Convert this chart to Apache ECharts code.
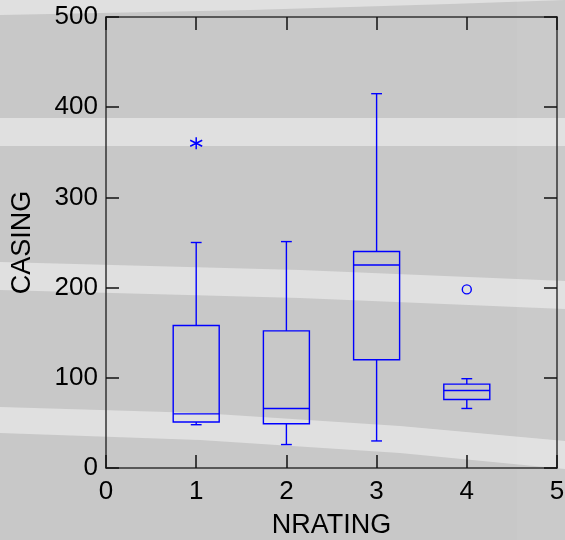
<!DOCTYPE html>
<html>
<head>
<meta charset="utf-8">
<script src="https://cdn.jsdelivr.net/npm/echarts@6/dist/echarts.min.js"></script>
<style>
html,body{margin:0;padding:0;background:#c8c8c8;}
#chart{width:565px;height:540px;}
</style>
</head>
<body>
<div id="chart"></div>
<script>
// ---- data ----
var positions = [1, 2, 3, 4];
var mins    = [48, 26, 30, 66];
var q1s     = [51, 49, 120, 76];
var medians = [60, 66, 225, 86];
var q3s     = [158, 152, 240, 93];
var maxs    = [250, 251, 415, 99];
var farOutX = [1];
var farOutY = [360];
var outX = [4];
var outY = [198];
var xTicks = [0, 1, 2, 3, 4, 5];
var yTicks = [0, 100, 200, 300, 400, 500];

var boxData = positions.map(function (p, i) {
  return [p, mins[i], q1s[i], medians[i], q3s[i], maxs[i]];
});
var farData = farOutX.map(function (x, i) { return [x, farOutY[i]]; });
var outData = outX.map(function (x, i) { return [x, outY[i]]; });

var BLUE = '#0000ff';
var BOX_W = 0.51;
var CAP_W = 0.12;
var FONT = "'Liberation Sans', Arial, sans-serif";

function renderBox(params, api) {
  var x = api.value(0);
  var pMin = api.coord([x, api.value(1)]);
  var pQ1 = api.coord([x, api.value(2)]);
  var pMed = api.coord([x, api.value(3)]);
  var pQ3 = api.coord([x, api.value(4)]);
  var pMax = api.coord([x, api.value(5)]);
  var hw = api.size([BOX_W, 0])[0] / 2;
  var cw = api.size([CAP_W, 0])[0] / 2;
  var cx = pMed[0];
  var st = { stroke: BLUE, fill: null, lineWidth: 1.4 };
  return {
    type: 'group',
    children: [
      { type: 'rect', shape: { x: cx - hw, y: pQ3[1], width: 2 * hw, height: pQ1[1] - pQ3[1] }, style: st },
      { type: 'line', shape: { x1: cx - hw, y1: pMed[1], x2: cx + hw, y2: pMed[1] }, style: st },
      { type: 'line', shape: { x1: cx, y1: pQ3[1], x2: cx, y2: pMax[1] }, style: st },
      { type: 'line', shape: { x1: cx, y1: pQ1[1], x2: cx, y2: pMin[1] }, style: st },
      { type: 'line', shape: { x1: cx - cw, y1: pMax[1], x2: cx + cw, y2: pMax[1] }, style: st },
      { type: 'line', shape: { x1: cx - cw, y1: pMin[1], x2: cx + cw, y2: pMin[1] }, style: st }
    ]
  };
}

var axisLine = { show: true, onZero: false, lineStyle: { color: '#333', width: 1.5 } };
var axisTick = { show: true, inside: true, length: 13, lineStyle: { color: '#111', width: 1.5 } };

var chart = echarts.init(document.getElementById('chart'), null, { renderer: 'canvas' });
chart.setOption({
  animation: false,
  backgroundColor: '#c8c8c8',
  graphic: [
    { type: 'polygon', z: -10, shape: { points: [[0, 0], [565, 0], [450, 4], [250, 10], [0, 15]] }, style: { fill: '#e0e0e0' } },
    { type: 'rect', z: -10, shape: { x: 0, y: 118, width: 565, height: 28 }, style: { fill: '#e0e0e0' } },
    { type: 'polygon', z: -10, shape: { points: [[0, 262], [300, 270], [565, 281], [565, 309], [300, 298], [0, 290]] }, style: { fill: '#e0e0e0' } },
    { type: 'polygon', z: -10, shape: { points: [[0, 407], [200, 413], [400, 426], [565, 441], [565, 469], [400, 453], [200, 440], [0, 433]] }, style: { fill: '#e0e0e0' } },
    { type: 'rect', z: -9, shape: { x: 517, y: 0, width: 48, height: 540 }, style: { fill: 'rgba(255,255,255,0.05)' } }
  ],
  grid: { left: 106, right: 8, top: 17, bottom: 72, containLabel: false, outerBoundsMode: 'none' },
  xAxis: [
    {
      type: 'value', min: 0, max: 5, interval: 1, position: 'bottom',
      name: 'NRATING', nameLocation: 'middle', nameGap: 44,
      nameTextStyle: { fontFamily: FONT, fontSize: 27, color: '#000' },
      axisLine: axisLine, axisTick: axisTick, splitLine: { show: false },
      axisLabel: { fontFamily: FONT, fontSize: 26, color: '#000', margin: 11,
        formatter: function (v) { return xTicks.indexOf(v) >= 0 ? String(v) : ''; } }
    },
    {
      type: 'value', min: 0, max: 5, interval: 1, position: 'top',
      axisLine: axisLine, axisTick: axisTick, splitLine: { show: false }, axisLabel: { show: false }
    }
  ],
  yAxis: [
    {
      type: 'value', min: 0, max: 500, interval: 100, position: 'left',
      name: 'CASING', nameLocation: 'middle', nameGap: 70, nameRotate: 90,
      nameTextStyle: { fontFamily: FONT, fontSize: 27, color: '#000' },
      axisLine: axisLine, axisTick: axisTick, splitLine: { show: false },
      axisLabel: { fontFamily: FONT, fontSize: 26, color: '#000', margin: 8,
        formatter: function (v) { return yTicks.indexOf(v) >= 0 ? String(v) : ''; } }
    },
    {
      type: 'value', min: 0, max: 500, interval: 100, position: 'right',
      axisLine: axisLine, axisTick: axisTick, splitLine: { show: false }, axisLabel: { show: false }
    }
  ],
  series: [
    {
      type: 'custom', renderItem: renderBox, data: boxData,
      encode: { x: 0, y: [1, 2, 3, 4, 5] }, xAxisIndex: 0, yAxisIndex: 0, z: 5
    },
    {
      type: 'scatter', data: farData, xAxisIndex: 0, yAxisIndex: 0, z: 6,
      symbol: 'path://M0,-6L0,6M-5.2,-3L5.2,3M-5.2,3L5.2,-3',
      symbolSize: 12,
      itemStyle: { color: 'rgba(0,0,0,0)', borderColor: BLUE, borderWidth: 1.5, opacity: 1 }
    },
    {
      type: 'scatter', data: outData, xAxisIndex: 0, yAxisIndex: 0, z: 6,
      symbol: 'circle', symbolSize: 9,
      itemStyle: { color: 'rgba(0,0,0,0)', borderColor: BLUE, borderWidth: 1.4, opacity: 1 }
    }
  ]
});
</script>
</body>
</html>
